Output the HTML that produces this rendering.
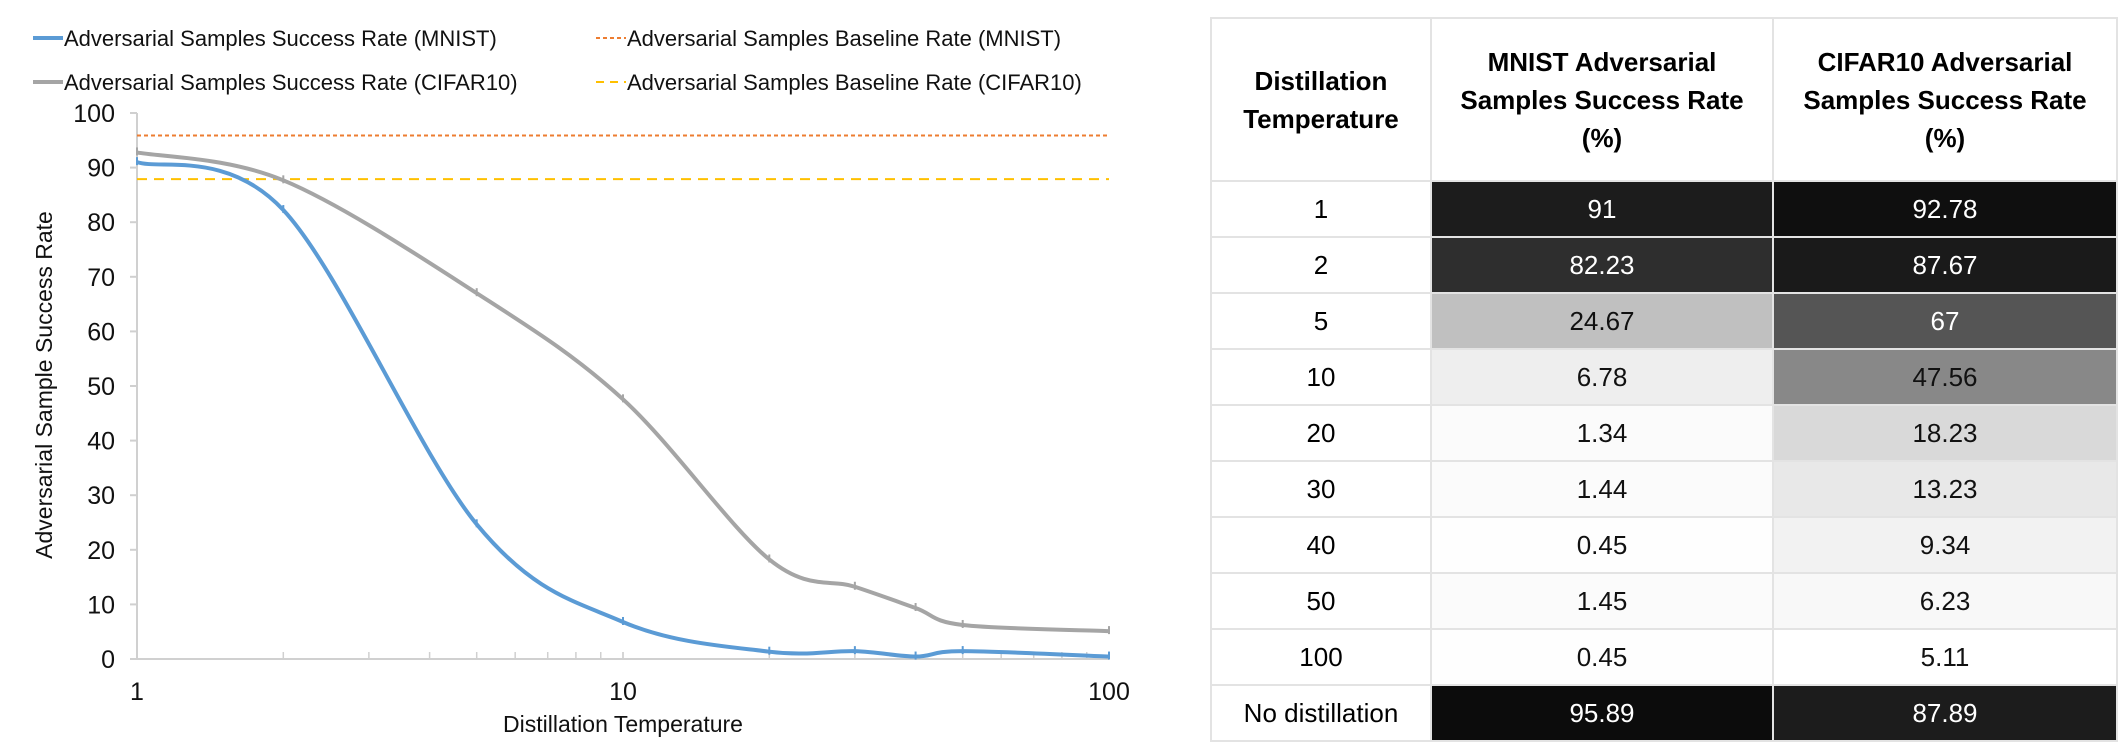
<!DOCTYPE html>
<html><head><meta charset="utf-8">
<style>
html,body{margin:0;padding:0;background:#fff;width:2124px;height:748px;overflow:hidden;font-family:"Liberation Sans",sans-serif;}
#chart{position:absolute;left:0;top:0;}
table{position:absolute;left:1210px;top:17px;border-collapse:collapse;font-family:"Liberation Sans",sans-serif;}
td,th{border:2px solid #e3e3e3;text-align:center;font-size:26px;padding:0;}
th{height:161px;font-weight:bold;font-size:26px;line-height:38px;}
td{height:54px;}
.c0{width:218px}.c1{width:340px}.c2{width:342px}
</style></head><body>
<svg id="chart" width="1200" height="748"></svg>
<table>
<thead><tr>
<th class="c0">Distillation<br>Temperature</th>
<th class="c1">MNIST Adversarial<br>Samples Success Rate<br>(%)</th>
<th class="c2">CIFAR10 Adversarial<br>Samples Success Rate<br>(%)</th></tr></thead>
<tbody id="tb"></tbody></table>
<script>
const temps=[1,2,5,10,20,30,40,50,100];
const mnist=[91,82.23,24.67,6.78,1.34,1.44,0.45,1.45,0.45];
const cifar=[92.78,87.67,67,47.56,18.23,13.23,9.34,6.23,5.11];
const baseMnist=95.89;
const baseCifar=87.89;
const yTicks=[0,10,20,30,40,50,60,70,80,90,100];
const xTicks=[1,10,100];
const rowLabels=['1','2','5','10','20','30','40','50','100','No distillation'];
const mnistText=['91','82.23','24.67','6.78','1.34','1.44','0.45','1.45','0.45','95.89'];
const cifarText=['92.78','87.67','67','47.56','18.23','13.23','9.34','6.23','5.11','87.89'];
const mnistShade=['#1c1c1c','#2e2e2e','#c0c0c0','#eeeeee','#fbfbfb','#fbfbfb','#fefefe','#fbfbfb','#fefefe','#0c0c0c'];
const cifarShade=['#0f0f0f','#1a1a1a','#555555','#888888','#d9d9d9','#e8e8e8','#f2f2f2','#f8f8f8','#ffffff','#1c1c1c'];

const NS='http://www.w3.org/2000/svg';
const svg=document.getElementById('chart');
const X0=137,X1=1109,Y0=659,Y1=113;
const xs=v=>X0+(Math.log10(v)-0)/2*(X1-X0);
const ys=v=>Y0-v/100*(Y0-Y1);
function mk(tag,attrs,parent){const e=document.createElementNS(NS,tag);for(const k in attrs)e.setAttribute(k,attrs[k]);(parent||svg).appendChild(e);return e;}
// axes
let ax=mk('line',{x1:X0,y1:Y0,x2:X1,y2:Y0,stroke:'#d0d0d0','stroke-width':2});


let ay=mk('line',{x1:X0,y1:Y0,x2:X0,y2:Y1,stroke:'#d0d0d0','stroke-width':2});


yTicks.forEach(t=>{
  mk('line',{x1:X0-7,x2:X0,y1:ys(t),y2:ys(t),stroke:'#d0d0d0','stroke-width':2});
  const tx=mk('text',{x:115,y:ys(t)+9,'text-anchor':'end','font-size':25,fill:'#111'});tx.textContent=t;
  
  
});
for(let d=1;d<100;d*=10)for(let m=1;m<=10;m++){const v=d*m;mk('line',{x1:xs(v),x2:xs(v),y1:Y0,y2:Y0-7,stroke:'#d0d0d0','stroke-width':1.5});}
xTicks.forEach(t=>{const tx=mk('text',{x:xs(t),y:700,'text-anchor':'middle','font-size':25,fill:'#111'});tx.textContent=t;
  
  });
let xt=mk('text',{x:623,y:732,'text-anchor':'middle','font-size':23,fill:'#111'});xt.textContent='Distillation Temperature';


let yt=mk('text',{x:0,y:0,'text-anchor':'middle','font-size':23,fill:'#111',transform:'translate(52,385) rotate(-90)'});yt.textContent='Adversarial Sample Success Rate';


// baselines
let b1=mk('line',{x1:X0,x2:X1,y1:ys(baseMnist),y2:ys(baseMnist),stroke:'#ed7d31','stroke-width':2,'stroke-dasharray':'4 3'});


let b2=mk('line',{x1:X0,x2:X1,y1:ys(baseCifar),y2:ys(baseCifar),stroke:'#ffc000','stroke-width':2,'stroke-dasharray':'10 7'});


function smooth(pts){let d='M'+pts[0][0]+','+pts[0][1];
  for(let i=0;i<pts.length-1;i++){const p0=pts[i-1]||pts[i],p1=pts[i],p2=pts[i+1],p3=pts[i+2]||p2;
    const c1=[p1[0]+(p2[0]-p0[0])/6,p1[1]+(p2[1]-p0[1])/6],c2=[p2[0]-(p3[0]-p1[0])/6,p2[1]-(p3[1]-p1[1])/6];
    d+=' C'+c1+' '+c2+' '+p2;}return d;}
function series(vals,color,name){
  const pts=temps.map((t,i)=>[xs(t),ys(vals[i])]);
  const p=mk('path',{d:smooth(pts),fill:'none',stroke:color,'stroke-width':4});
  
  
  pts.forEach(q=>{const m=mk('line',{x1:q[0],x2:q[0],y1:q[1]-5,y2:q[1]+3,stroke:color,'stroke-width':2});
    
    });
}
series(cifar,'#a5a5a5','series-cifar');
series(mnist,'#5b9bd5','series-mnist');
// legend
const leg=[[33,38,'#5b9bd5','solid','Adversarial Samples Success Rate (MNIST)','legend-mnist-rate'],
[596,38,'#ed7d31','4 3','Adversarial Samples Baseline Rate (MNIST)','legend-mnist-baseline'],
[33,82,'#a5a5a5','solid','Adversarial Samples Success Rate (CIFAR10)','legend-cifar-rate'],
[596,82,'#ffc000','8 6','Adversarial Samples Baseline Rate (CIFAR10)','legend-cifar-baseline']];
leg.forEach(l=>{const g=mk('g',{});
  
  
  mk('line',{x1:l[0],x2:l[0]+30,y1:l[1],y2:l[1],stroke:l[2],'stroke-width':l[3]=='solid'?4:2,'stroke-dasharray':l[3]=='solid'?'':l[3]},g);
  const t=mk('text',{x:l[0]+31,y:l[1]+8,'font-size':22,fill:'#111'},g);t.textContent=l[4];});
// table
const tb=document.getElementById('tb');
rowLabels.forEach((r,i)=>{const tr=document.createElement('tr');
  
  
  const a=document.createElement('td');a.textContent=r;
  
  
  const b=document.createElement('td');b.textContent=mnistText[i];b.style.background=mnistShade[i];
  
  
  const c=document.createElement('td');c.textContent=cifarText[i];c.style.background=cifarShade[i];
  
  
  [b,c].forEach(e=>{const v=parseInt(e.style.background.match(/\d+/)[0]);e.style.color=v<128?'#fff':'#111';});
  tr.append(a,b,c);tb.appendChild(tr);});
</script>
</body></html>
